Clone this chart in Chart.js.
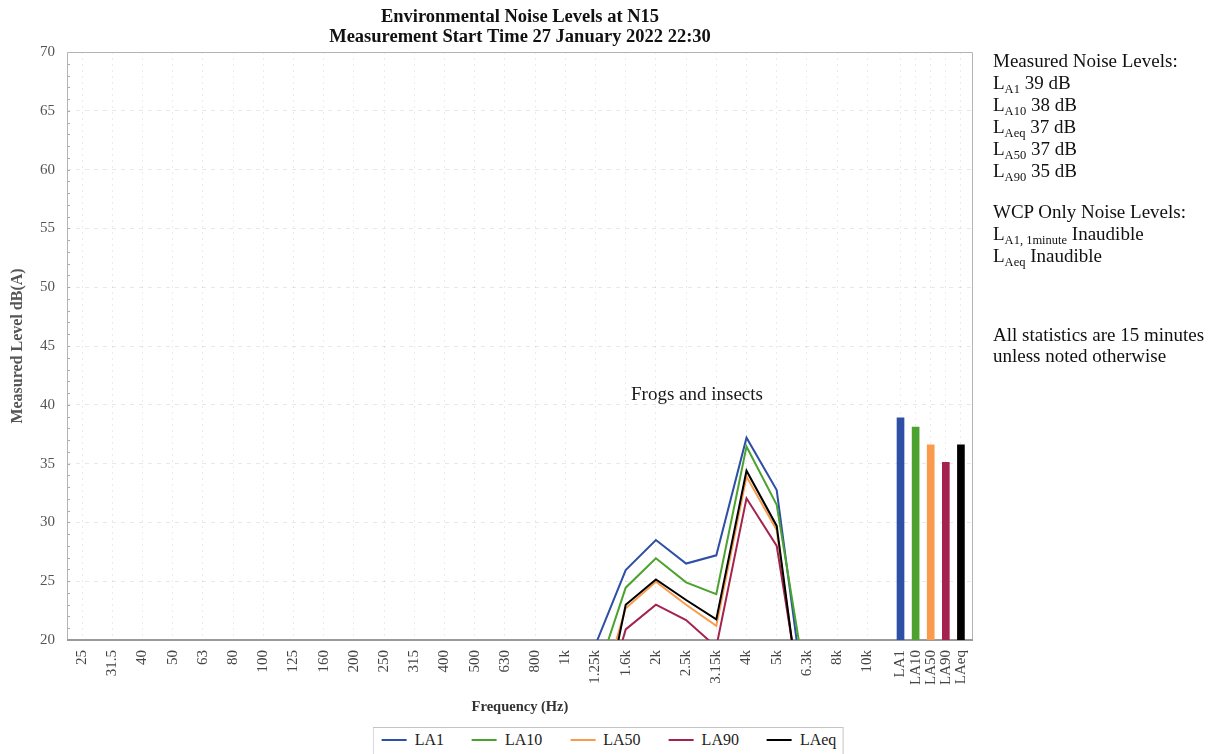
<!DOCTYPE html>
<html>
<head>
<meta charset="utf-8">
<title>Environmental Noise Levels at N15</title>
<script src="https://cdn.jsdelivr.net/npm/chart.js@4.4.1/dist/chart.umd.min.js"></script>
<style>
  html, body { margin: 0; padding: 0; background: #fff; overflow: hidden; }
  #wrap { position: relative; width: 1216px; height: 754px; }
  #chart { position: absolute; left: 0; top: 0; }
  #notes {
    position: absolute; left: 993px; top: 50px;
    font-family: "Liberation Serif", serif; font-size: 19px; line-height: 22px; color: #111;
    white-space: nowrap;
  }
  #notes .sub { font-size: 12.5px; position: relative; top: 4px; line-height: 0; }
  #notes .group2 { margin-top: 19px; }
  #notes .group3 { margin-top: 57px; line-height: 21px; }
  #legend {
    position: absolute; left: 608px; top: 727px; transform: translateX(-50%);
    border: 1px solid #c4c4c4; padding: 3px 6px 8px 8px;
    display: flex; align-items: center; gap: 28px;
    font-family: "Liberation Serif", serif; font-size: 16px; line-height: 18px; color: #222;
    white-space: nowrap; background: #fff;
  }
  #legend .item { display: flex; align-items: center; }
  #legend .swatch { width: 25px; height: 2px; margin-right: 8px; }
</style>
</head>
<body>
<div id="wrap">
  <canvas id="chart" width="1216" height="754"></canvas>
  <div id="notes"></div>
  <div id="legend"></div>
</div>
<script>
// Third-octave band centre frequencies (Hz)
const freqLabels = ['25', '31.5', '40', '50', '63', '80', '100', '125', '160', '200',
  '250', '315', '400', '500', '630', '800', '1k', '1.25k', '1.6k', '2k', '2.5k',
  '3.15k', '4k', '5k', '6.3k', '8k', '10k'];

// Spectrum levels in dB(A); null where the band sits below the plotted range
const la1 = [null, null, null, null, null, null, null, null, null, null, null, null,
  null, null, null, null, null, 19.6, 25.95, 28.5, 26.5, 27.2, 37.2, 32.75, 13.4, null, null];
const la10 = [null, null, null, null, null, null, null, null, null, null, null, null,
  null, null, null, null, null, 16.7, 24.45, 26.95, 24.9, 23.9, 36.45, 31.5, 15.75, null, null];
const la50 = [null, null, null, null, null, null, null, null, null, null, null, null,
  null, null, null, null, null, 14.0, 22.7, 24.95, 23.0, 21.2, 33.9, 29.35, 10.5, null, null];
const la90 = [null, null, null, null, null, null, null, null, null, null, null, null,
  null, null, null, null, null, 12.0, 20.9, 23.0, 21.7, 19.4, 32.05, 28.0, 12.0, null, null];
const laeq = [null, null, null, null, null, null, null, null, null, null, null, null,
  null, null, null, null, null, 10.5, 23.0, 25.15, 23.4, 21.75, 34.4, 29.7, 10.3, null, null];

// Overall 15-minute statistics, drawn as bars after the spectrum
const statLabels = ['LA1', 'LA10', 'LA50', 'LA90', 'LAeq'];
const statValues = [38.9, 38.1, 36.6, 35.1, 36.6];

// Order of the statistics in the side notes
const noteOrder = ['LA1', 'LA10', 'LAeq', 'LA50', 'LA90'];
const wcpNotes = [['LA1, 1minute', 'Inaudible'], ['LAeq', 'Inaudible']];

// Y axis range and tick step (dB)
const yMin = 20, yMax = 70, yStep = 5;

const seriesNames = ['LA1', 'LA10', 'LA50', 'LA90', 'LAeq'];
const seriesData = [la1, la10, la50, la90, laeq];
const seriesColors = ['#2E4FA6', '#4BA22E', '#FA9A4C', '#A4224F', '#000000'];

// x positions: one unit per frequency band, statistics bars packed at half spacing
const freqPos = freqLabels.map((_, i) => i);
const statPos = statLabels.map((_, j) => freqLabels.length + 0.1 + j * 0.5);
const tickPos = freqPos.concat(statPos);
const tickText = freqLabels.concat(statLabels);

const serif = '"Liberation Serif", serif';

const lineSets = seriesNames.map((name, k) => ({
  type: 'line',
  label: name,
  data: seriesData[k].map((v, i) => ({ x: freqPos[i], y: v })),
  borderColor: seriesColors[k],
  backgroundColor: seriesColors[k],
  borderWidth: 2,
  pointRadius: 0,
  pointHoverRadius: 0,
  tension: 0,
  spanGaps: false,
  order: seriesNames.length - k
}));

const barSet = {
  type: 'bar',
  label: 'Statistics',
  data: statValues.map((v, j) => ({ x: statPos[j], y: v })),
  backgroundColor: seriesColors,
  borderWidth: 0,
  barThickness: 7,
  order: 10
};

// Plot frame, grey box with a heavier base line, and 1 dB minor ticks on the left
const framePlugin = {
  id: 'frame',
  beforeDatasetsDraw(chart) {
    const { ctx, chartArea: a, scales } = chart;
    ctx.save();
    ctx.strokeStyle = '#b4b4b4';
    ctx.lineWidth = 1;
    ctx.beginPath();
    ctx.moveTo(a.left + 0.5, a.bottom);
    ctx.lineTo(a.left + 0.5, a.top + 0.5);
    ctx.lineTo(a.right - 0.5, a.top + 0.5);
    ctx.lineTo(a.right - 0.5, a.bottom);
    ctx.stroke();
    ctx.strokeStyle = '#9a9a9a';
    ctx.lineWidth = 2;
    ctx.beginPath();
    ctx.moveTo(a.left, a.bottom);
    ctx.lineTo(a.right, a.bottom);
    ctx.stroke();
    ctx.strokeStyle = '#a8a8a8';
    ctx.lineWidth = 1;
    ctx.beginPath();
    for (let v = yMin + 1; v < yMax; v++) {
      const y = Math.round(scales.y.getPixelForValue(v)) + 0.5;
      ctx.moveTo(a.left + 1, y);
      ctx.lineTo(a.left + 3, y);
    }
    ctx.stroke();
    ctx.restore();
  }
};

// Text note placed inside the plot at a data position
const noteText = { text: 'Frogs and insects', x: 20.36, y: 40.8 };
const notePlugin = {
  id: 'plotNote',
  afterDatasetsDraw(chart) {
    const { ctx, scales } = chart;
    ctx.save();
    ctx.font = '19px ' + serif;
    ctx.fillStyle = '#1a1a1a';
    ctx.textAlign = 'center';
    ctx.textBaseline = 'middle';
    ctx.fillText(noteText.text, scales.x.getPixelForValue(noteText.x), scales.y.getPixelForValue(noteText.y));
    ctx.restore();
  }
};

// HTML legend built from the chart's own legend items (line series only)
const htmlLegend = {
  id: 'htmlLegend',
  afterUpdate(chart) {
    const box = document.getElementById('legend');
    box.innerHTML = '';
    const items = chart.options.plugins.legend.labels.generateLabels(chart)
      .filter(it => chart.data.datasets[it.datasetIndex].type === 'line')
      .sort((a, b) => a.datasetIndex - b.datasetIndex);
    items.forEach(it => {
      const el = document.createElement('div');
      el.className = 'item';
      const sw = document.createElement('span');
      sw.className = 'swatch';
      sw.style.background = it.strokeStyle;
      const tx = document.createElement('span');
      tx.textContent = it.text;
      el.appendChild(sw);
      el.appendChild(tx);
      box.appendChild(el);
    });
  }
};

new Chart(document.getElementById('chart'), {
  type: 'line',
  data: { datasets: [...lineSets, barSet] },
  plugins: [framePlugin, notePlugin, htmlLegend],
  options: {
    responsive: false,
    devicePixelRatio: 1,
    animation: false,
    layout: { padding: { left: 0, right: 243, top: 0, bottom: 27 } },
    plugins: {
      legend: { display: false },
      tooltip: { enabled: false },
      title: {
        display: true,
        fullSize: false,
        text: ['Environmental Noise Levels at N15', 'Measurement Start Time 27 January 2022 22:30'],
        font: { family: serif, size: 18.5, weight: 'bold', lineHeight: 20 / 18.5 },
        color: '#111',
        padding: { top: 7, bottom: 5 }
      }
    },
    scales: {
      x: {
        type: 'linear',
        offset: false,
        min: -0.5,
        max: tickPos[tickPos.length - 1] + 0.4,
        afterBuildTicks(scale) { scale.ticks = tickPos.map(v => ({ value: v })); },
        afterFit(scale) { scale.height = 87; },
        ticks: {
          autoSkip: false,
          minRotation: 90,
          maxRotation: 90,
          padding: 10,
          color: '#444',
          font: { family: serif, size: 15 },
          callback: (value, index) => tickText[index]
        },
        grid: { offset: false, color: 'rgba(0,0,0,0.08)', drawTicks: false },
        border: { display: false, dash: [2, 4] },
        title: {
          display: true,
          text: 'Frequency (Hz)',
          color: '#333',
          font: { family: serif, size: 14.5, weight: 'bold' },
          padding: { top: 0, bottom: 11 }
        }
      },
      y: {
        type: 'linear',
        min: yMin,
        max: yMax,
        afterFit(scale) { scale.width = 67; },
        ticks: {
          stepSize: yStep,
          padding: 12,
          color: '#555',
          font: { family: serif, size: 15 }
        },
        grid: { color: 'rgba(0,0,0,0.09)', drawTicks: false },
        border: { display: false, dash: [4, 5] },
        title: {
          display: true,
          text: 'Measured Level dB(A)',
          color: '#555',
          font: { family: serif, size: 16, weight: 'bold' },
          padding: { top: 8, bottom: 0 }
        }
      }
    }
  }
});

// Side notes; the statistic levels are rounded from the bar values
const notes = document.getElementById('notes');
function noteLine(key, rest, cls) {
  const d = document.createElement('div');
  if (cls) d.className = cls;
  const sub = key.replace(/^L/, '');
  d.innerHTML = 'L<span class="sub">' + sub + '</span> ' + rest;
  return d;
}
const head1 = document.createElement('div');
head1.textContent = 'Measured Noise Levels:';
notes.appendChild(head1);
noteOrder.forEach(key => {
  const v = statValues[statLabels.indexOf(key)];
  notes.appendChild(noteLine(key, Math.round(v) + ' dB'));
});
const head2 = document.createElement('div');
head2.className = 'group2';
head2.textContent = 'WCP Only Noise Levels:';
notes.appendChild(head2);
wcpNotes.forEach(([key, rest]) => notes.appendChild(noteLine(key, rest)));
const foot = document.createElement('div');
foot.className = 'group3';
foot.innerHTML = 'All statistics are 15 minutes<br>unless noted otherwise';
notes.appendChild(foot);
</script>
</body>
</html>
